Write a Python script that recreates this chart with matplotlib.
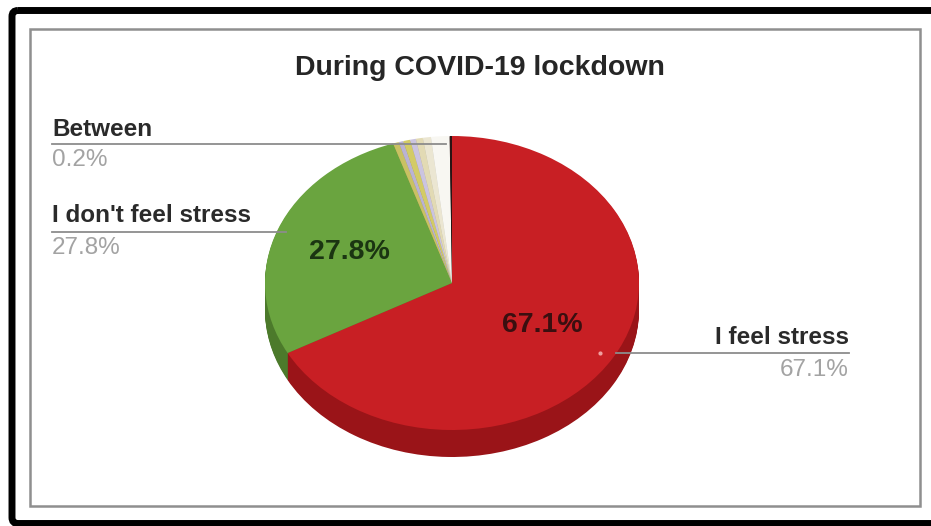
import matplotlib
matplotlib.use("Agg")
import matplotlib.pyplot as plt
from matplotlib.patches import FancyBboxPatch, Rectangle
import numpy as np

plt.rcParams['font.family'] = ['Liberation Sans', 'DejaVu Sans']

# Datos del grafico
title = "During COVID-19 lockdown"
labels = ["I feel stress", "I don't feel stress", "other 1", "other 2", "other 3",
          "other 4", "other 5", "other 6", "other 7", "Between"]
values = [67.1, 27.8, 0.5, 0.4, 0.6, 0.5, 0.6, 0.7, 1.6, 0.2]
top_colors = ["#c81f24", "#6aa43f", "#c9c163", "#bab3d3", "#d3cb66", "#cbc4e0",
              "#e2dab4", "#ebe6d2", "#f8f7f2", "#2a1414"]
side_colors = ["#9a1418", "#4c7a2b", "#9c9448", "#8e88a6", "#a29c4c", "#9a94ae",
               "#b0a988", "#b8b4a2", "#c8c6c0", "#1a0c0c"]
shown = ["I feel stress", "I don't feel stress", "Between"]

W, H = 931, 526
fig = plt.figure(figsize=(W/100, H/100), dpi=100)

# Pie en perspectiva: elipse (aspect auto) y varias capas para el grosor
cx, cy, a, b, depth = 452, 283, 187, 147, 27
d = depth / b
pax = fig.add_axes([(cx - a)/W, (H - (cy + b + depth))/H, 2*a/W, (2*b + depth)/H])
for off in np.linspace(-d, 0, 28)[:-1]:
    pax.pie(values, colors=side_colors, center=(0, off), startangle=90,
            counterclock=False, wedgeprops=dict(linewidth=0, antialiased=True))
pax.pie(values, colors=top_colors, center=(0, 0), startangle=90,
        counterclock=False, wedgeprops=dict(linewidth=0.3, edgecolor=None, antialiased=True))
pax.set_aspect('auto')
pax.set_xlim(-1, 1)
pax.set_ylim(-1 - d, 1)
pax.axis('off')

# Capa superior en pixeles para marcos, textos y lineas
ov = fig.add_axes([0, 0, 1, 1], zorder=5)
ov.set_xlim(0, W)
ov.set_ylim(H, 0)
ov.axis('off')
ov.patch.set_alpha(0)

ov.add_patch(FancyBboxPatch((12, 10.5), 960, 513, boxstyle="round,pad=0,rounding_size=6",
                            fill=False, edgecolor="black", linewidth=5))
ov.add_patch(Rectangle((30, 29), 890, 477, fill=False, edgecolor="#8f8f8f", linewidth=1.8))

ov.text(480, 68, title, ha='center', va='center', fontsize=20.5,
        fontweight='bold', color="#262626")

gray = "#a3a3a3"
line_c = "#8c8c8c"
fs = 17.5
pct = dict(zip(labels, values))

# Etiquetas de la izquierda
ov.text(52, 129, shown[2], ha='left', va='center', fontsize=fs, fontweight='bold', color="#2a2a2a")
ov.text(52, 160, f"{pct[shown[2]]:.1f}%", ha='left', va='center', fontsize=fs, color=gray)
ov.plot([52, 446], [144, 144], color=line_c, lw=1.3)

ov.text(52, 216, shown[1], ha='left', va='center', fontsize=fs, fontweight='bold', color="#2a2a2a")
ov.text(52, 248, f"{pct[shown[1]]:.1f}%", ha='left', va='center', fontsize=fs, color=gray)
ov.plot([52, 286], [232, 232], color=line_c, lw=1.3)

# Etiqueta de la derecha
ov.text(849, 337, shown[0], ha='right', va='center', fontsize=fs, fontweight='bold', color="#2a2a2a")
ov.text(849, 370, f"{pct[shown[0]]:.1f}%", ha='right', va='center', fontsize=fs, color=gray)
ov.plot([616, 849], [353, 353], color=line_c, lw=1.3)
ov.plot([600], [353], marker='o', ms=2, color="#f0a0a0")

# Porcentajes dentro de las porciones
ov.text(349, 252, f"{pct[shown[1]]:.1f}%", ha='center', va='center', fontsize=20.5,
        fontweight='bold', color="#1b3512")
ov.text(542, 325, f"{pct[shown[0]]:.1f}%", ha='center', va='center', fontsize=20.5,
        fontweight='bold', color="#3a0f10")

fig.savefig("out.png", dpi=100)
